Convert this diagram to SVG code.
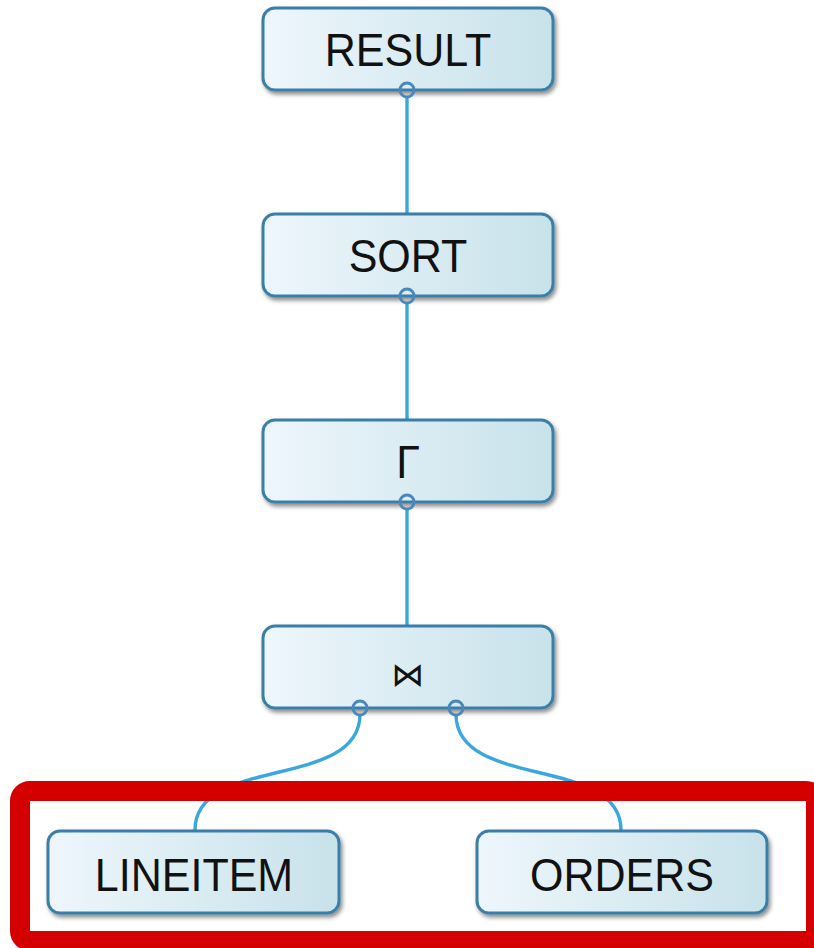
<svg xmlns="http://www.w3.org/2000/svg" width="814" height="948" viewBox="0 0 814 948">
<defs>
<linearGradient id="g" x1="0" y1="0" x2="1" y2="0">
<stop offset="0" stop-color="#eef6fc"/>
<stop offset="1" stop-color="#c8e2ea"/>
</linearGradient>
<filter id="sh" x="-10%" y="-20%" width="120%" height="150%">
<feDropShadow dx="2" dy="3" stdDeviation="2" flood-color="#000" flood-opacity="0.45"/>
</filter>
<style>
.box{fill:url(#g);stroke:#3b7ea8;stroke-width:3;filter:url(#sh)}
.lbl{font-family:"Liberation Sans",Arial,sans-serif;font-size:43px;fill:#111;text-anchor:middle}
.sym{font-family:"DejaVu Sans",sans-serif;font-size:33px;fill:#111;text-anchor:middle}
.port{fill:none;stroke:#4b87bf;stroke-width:3}
.conn{fill:none;stroke:#3aa7dd;stroke-width:3.4}
</style>
</defs>
<rect width="814" height="948" fill="#fff"/>
<g id="connectors">
<line class="conn" x1="407" y1="97" x2="407" y2="214"/>
<line class="conn" x1="407" y1="303" x2="407" y2="420"/>
<line class="conn" x1="407" y1="509" x2="407" y2="626"/>
<path class="conn" d="M360,715 C359,790 195,755 195,830"/>
<path class="conn" d="M456,715 C457,790 621,755 621,830"/>
</g>
<g id="result">
<rect class="box" x="263" y="8" width="290" height="82" rx="12"/>
<text class="lbl" transform="translate(408,66) scale(1,1.07)">RESULT</text>
<circle class="port" cx="407" cy="90" r="7"/>
</g>
<g id="sort">
<rect class="box" x="263" y="214" width="290" height="82" rx="12"/>
<text class="lbl" transform="translate(408,272) scale(1,1.07)">SORT</text>
<circle class="port" cx="407" cy="296" r="7"/>
</g>
<g id="groupby">
<rect class="box" x="263" y="420" width="290" height="82" rx="12"/>
<text class="lbl" transform="translate(408,478) scale(1,1.07)">Γ</text>
<circle class="port" cx="407" cy="502" r="7"/>
</g>
<g id="join">
<rect class="box" x="263" y="626" width="290" height="82" rx="12"/>
<text class="sym" x="408" y="686">⋈</text>
<circle class="port" cx="360" cy="708" r="7"/>
<circle class="port" cx="456" cy="708" r="7"/>
</g>
<g id="lineitem">
<rect class="box" x="48" y="831" width="291" height="82" rx="12"/>
<text class="lbl" transform="translate(194,891) scale(1,1.07)">LINEITEM</text>
</g>
<g id="orders">
<rect class="box" x="477" y="831" width="290" height="82" rx="12"/>
<text class="lbl" transform="translate(622,891) scale(1,1.07)">ORDERS</text>
</g>
<g id="highlight">
<rect x="20" y="791" width="796" height="150" rx="10" fill="none" stroke="#d40000" stroke-width="20"/>
</g>
</svg>
